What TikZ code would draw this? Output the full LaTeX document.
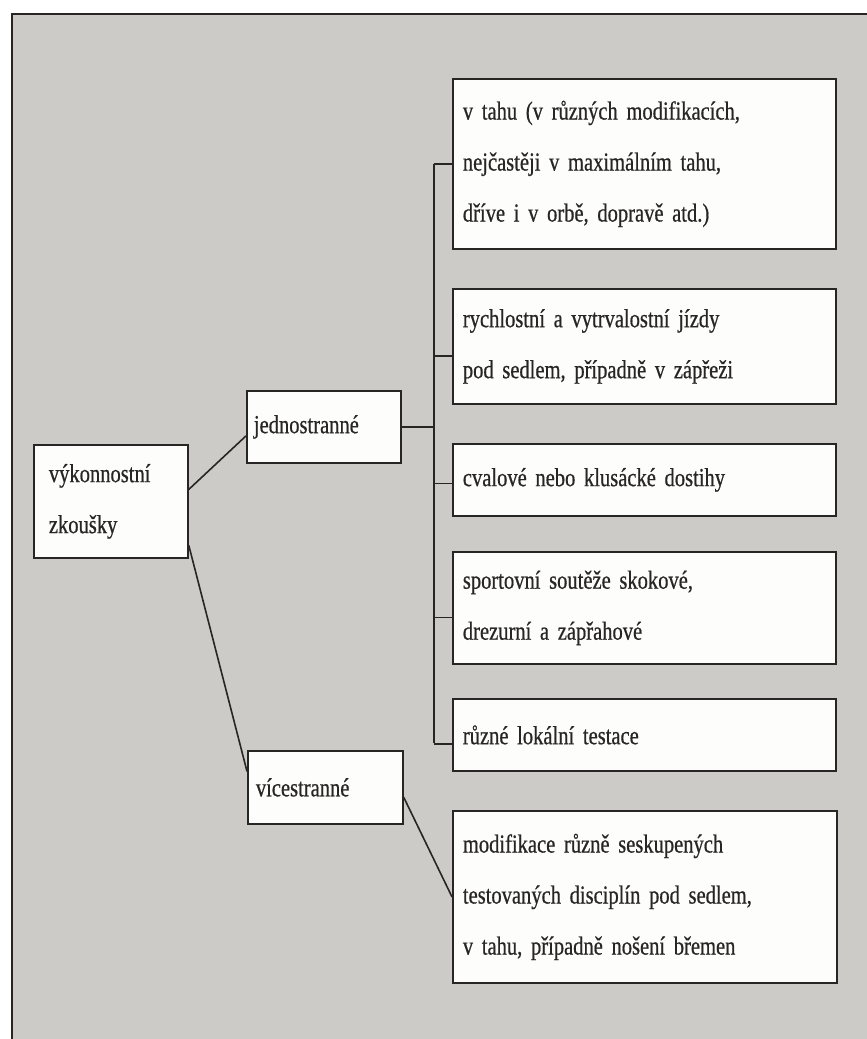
\documentclass[tikz,border=0pt]{standalone}
\usepackage{fontspec}
\setmainfont{Liberation Serif}[FakeStretch=0.79,WordSpace=0.8,FakeBold=0.6]
\usetikzlibrary{calc}
\definecolor{paper}{RGB}{205,203,199}
\definecolor{ink}{RGB}{40,38,36}
\definecolor{boxfill}{RGB}{253,253,251}
\begin{document}
\begin{tikzpicture}[x=1pt,y=-1pt,
  box/.style={draw=ink, line width=1.8pt, fill=boxfill, text=ink, align=left,
    anchor=north west, inner ysep=0pt, font=\fontsize{26}{51}\selectfont},
  wire/.style={draw=ink, line width=1.6pt}]
\useasboundingbox (0,0) rectangle (867,1039);
\fill[white] (0,0) rectangle (867,1039);
\fill[paper] (12,14) rectangle (867,1039);
\draw[ink, line width=2pt] (867,14) -- (12,14) -- (12,1039);

% root and second level
\node[box, minimum width=154pt, minimum height=113pt, inner xsep=15pt, text width=124pt] (root) at (33,444) {výkonnostní\\zkoušky};
\node[box, minimum width=154pt, minimum height=72pt, inner xsep=7pt, text width=140pt] (jedno) at (246,390) {jednostranné};
\node[box, minimum width=155pt, minimum height=73pt, inner xsep=8pt, text width=139pt] (vice) at (247,750) {vícestranné};

% third level
\node[box, minimum width=383pt, minimum height=170pt, inner xsep=10pt, text width=363pt] (b1) at (452,78) {v tahu (v různých modifikacích,\\nejčastěji v maximálním tahu,\\dříve i v orbě, dopravě atd.)};
\node[box, minimum width=383pt, minimum height=115pt, inner xsep=10pt, text width=363pt] (b2) at (452,288) {rychlostní a vytrvalostní jízdy\\pod sedlem, případně v zápřeži};
\node[box, minimum width=383pt, minimum height=72pt, inner xsep=10pt, text width=363pt] (b3) at (452,443) {cvalové nebo klusácké dostihy};
\node[box, minimum width=383pt, minimum height=112pt, inner xsep=10pt, text width=363pt] (b4) at (452,551) {sportovní soutěže skokové,\\drezurní a zápřahové};
\node[box, minimum width=383pt, minimum height=72pt, inner xsep=10pt, text width=363pt] (b5) at (452,698) {různé lokální testace};
\node[box, minimum width=384pt, minimum height=172pt, inner xsep=10pt, text width=364pt] (b6) at (452,810) {modifikace různě seskupených\\testovaných disciplín pod sedlem,\\v tahu, případně nošení břemen};

% bus
\coordinate (bustop) at (434,163);
\coordinate (busbot) at (434,743);
\coordinate (c1) at ($(b1.west)$);
\coordinate (c2) at ($(b2.west)+(0,9.5)$);
\coordinate (c3) at ($(b3.west)+(0,3.5)$);
\coordinate (c4) at ($(b4.west)+(0,9.5)$);
\coordinate (c5) at ($(b5.west)+(0,9)$);

\draw[wire] (bustop |- c1) -- (busbot);
\draw[wire] (jedno.east) -- (bustop |- jedno.east);
\draw[wire] (bustop |- c1) -- (c1);
\draw[wire] (bustop |- c2) -- (c2);
\draw[wire] (bustop |- c3) -- (c3);
\draw[wire] (bustop |- c4) -- (c4);
\draw[wire] (busbot |- c5) -- (c5);
\draw[wire] ($(root.east)+(0,-12)$) -- ($(jedno.west)+(0,9)$);
\draw[wire] ($(root.east)+(0,44)$) -- ($(vice.west)+(0,-16)$);
\draw[wire] ($(vice.east)+(0,10)$) -- (b6.west);
\end{tikzpicture}
\end{document}
